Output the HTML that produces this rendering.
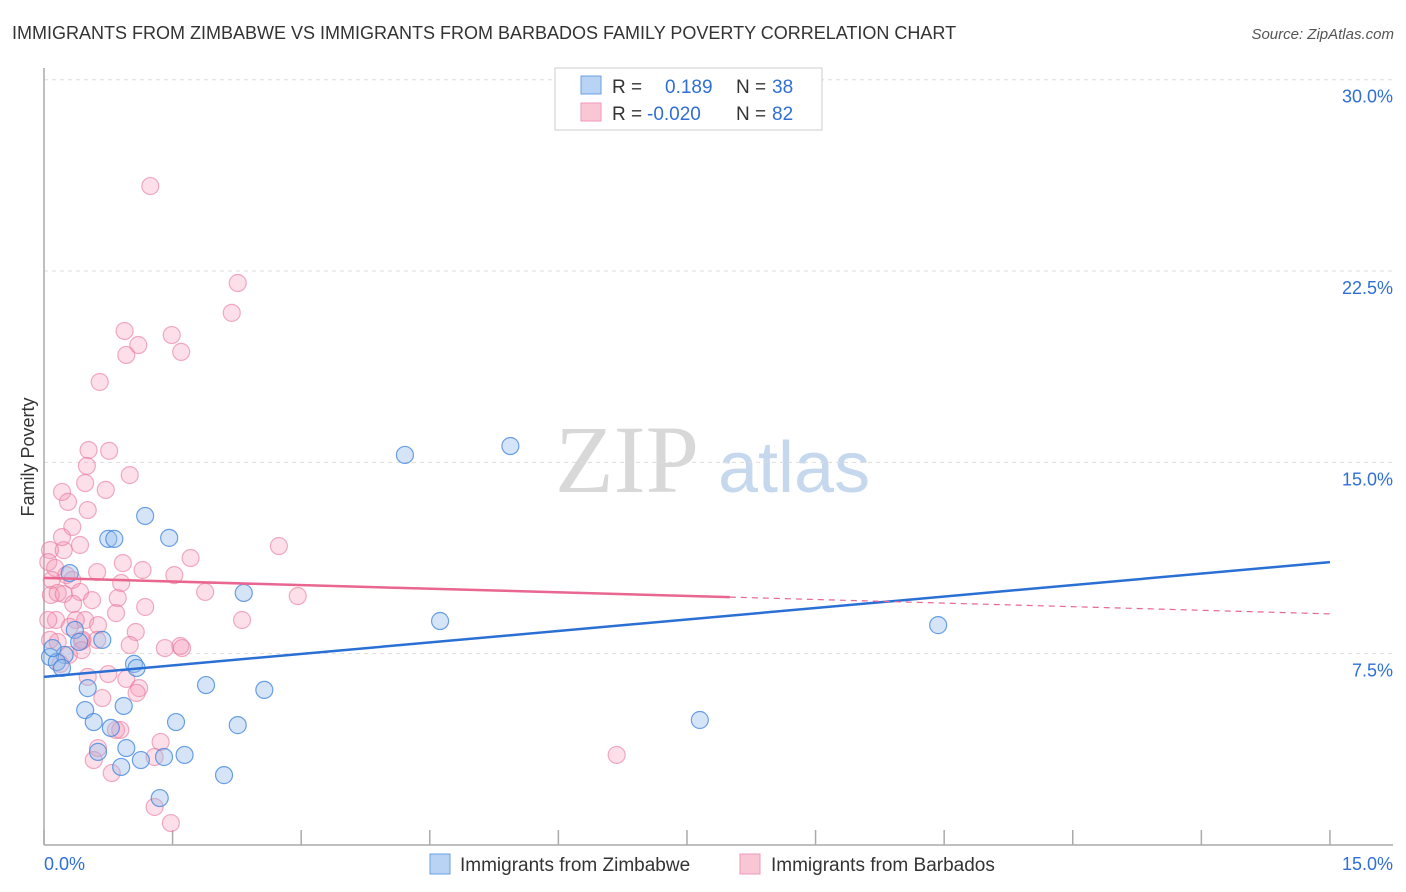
<!DOCTYPE html>
<html><head><meta charset="utf-8">
<style>
body{margin:0;background:#fff;font-family:"Liberation Sans",sans-serif;}
#wrap{position:relative;width:1406px;height:892px;overflow:hidden;}
</style></head>
<body>
<div id="wrap">
<svg id="chart" width="1406" height="892" xmlns="http://www.w3.org/2000/svg">
<text x="12" y="39" font-size="18" fill="#333">IMMIGRANTS FROM ZIMBABWE VS IMMIGRANTS FROM BARBADOS FAMILY POVERTY CORRELATION CHART</text>
<text x="1394" y="39" font-size="15" fill="#555" font-style="italic" text-anchor="end">Source: ZipAtlas.com</text>
<text x="34" y="457" font-size="18" fill="#333" text-anchor="middle" transform="rotate(-90 34 457)">Family Poverty</text>
<g>
<text x="555" y="492" font-size="96" font-family="Liberation Serif,serif" fill="#d8d8d8">ZIP</text>
<text x="718" y="492" font-size="72" fill="#c5d8ee">atlas</text>
</g>
<g id="grid"></g>
<g id="axes"></g>
<g id="pts"></g>
<g id="trends"></g>
<g>
<rect x="555" y="68" width="267" height="62" fill="#fff" stroke="#ccc"/>
<rect x="581" y="76" width="20" height="18" fill="#b8d3f3" stroke="#6a9fe0"/>
<rect x="581" y="103" width="20" height="18" fill="#f9c6d6" stroke="#ee9ab4"/>
<text x="612" y="93" font-size="19" fill="#333">R =</text>
<text x="665" y="93" font-size="19" fill="#2f6fd6">0.189</text>
<text x="736" y="93" font-size="19" fill="#333">N =</text>
<text x="772" y="93" font-size="19" fill="#2f6fd6">38</text>
<text x="612" y="120" font-size="19" fill="#333">R =</text>
<text x="647" y="120" font-size="19" fill="#2f6fd6">-0.020</text>
<text x="736" y="120" font-size="19" fill="#333">N =</text>
<text x="772" y="120" font-size="19" fill="#2f6fd6">82</text>
</g>
<g>
<rect x="430" y="854" width="20" height="20" fill="#b8d3f3" stroke="#6a9fe0"/>
<text x="460" y="871" font-size="19" fill="#333">Immigrants from Zimbabwe</text>
<rect x="740" y="854" width="20" height="20" fill="#f9c6d6" stroke="#ee9ab4"/>
<text x="771" y="871" font-size="19" fill="#333">Immigrants from Barbados</text>
</g>
</svg>
</div>
<script>
const blueX=[4.21,5.44,1.18,1.46,0.75,0.82,0.30,2.33,4.62,10.43,0.36,0.41,0.24,0.07,0.15,0.21,1.05,1.08,0.51,1.89,2.57,0.48,0.93,1.54,2.26,7.65,0.58,0.78,0.96,0.63,0.90,1.13,1.40,1.64,2.10,1.35,0.10,0.68];
const blueY=[15.29,15.64,12.90,12.04,12.00,12.00,10.66,9.88,8.78,8.62,8.43,7.96,7.45,7.37,7.17,6.94,7.10,6.94,6.15,6.27,6.08,5.29,5.45,4.82,4.70,4.90,4.82,4.59,3.80,3.65,3.06,3.33,3.45,3.53,2.74,1.84,7.72,8.04];
const pinkX=[1.24,2.26,2.19,0.94,1.49,1.10,0.96,1.60,0.65,0.52,0.76,0.50,1.00,0.48,0.72,0.21,0.28,0.51,0.33,0.07,0.23,0.42,0.21,2.74,1.71,0.05,0.13,0.92,0.62,1.15,1.52,0.26,0.09,0.08,0.33,0.90,0.16,0.23,1.88,2.96,0.42,0.56,0.86,0.34,1.18,0.84,0.14,0.48,0.37,2.31,0.30,0.63,1.07,0.44,0.07,0.16,1.00,0.45,0.62,0.29,1.59,1.61,1.41,0.19,0.75,0.96,1.11,1.08,0.68,0.51,0.84,0.63,0.58,0.79,1.36,1.29,6.68,1.29,1.48,0.05,0.89,0.44];
const pinkY=[25.83,22.03,20.86,20.15,19.99,19.60,19.21,19.33,18.15,15.48,15.45,14.86,14.50,14.19,13.92,13.84,13.45,13.13,12.47,11.56,11.56,11.76,12.07,11.72,11.25,11.09,10.86,11.05,10.70,10.78,10.58,10.58,10.39,9.80,10.39,10.27,9.88,9.84,9.92,9.76,9.92,9.60,9.68,9.45,9.33,9.09,8.82,8.82,8.82,8.82,8.55,8.62,8.35,8.00,8.04,7.96,7.84,8.04,8.04,7.45,7.80,7.72,7.72,7.10,6.70,6.51,6.15,5.96,5.76,6.59,4.51,3.80,3.33,2.82,4.04,3.45,3.53,1.49,0.86,8.82,4.51,7.64];
const yTicks=[7.5,15,22.5,30];
const yTickLabels=["7.5%","15.0%","22.5%","30.0%"];
const xTickVals=[0,1.5,3,4.5,6,7.5,9,10.5,12,13.5,15];
const blueTrend=[6.59,11.09];
const pinkTrend=[10.47,9.06];
const pinkSolidEnd=8.0;

const NS="http://www.w3.org/2000/svg";
const X=v=>44+v*85.73;
const Y=v=>845-v*25.51;
function mk(tag,attrs,parent){const e=document.createElementNS(NS,tag);for(const k in attrs)e.setAttribute(k,attrs[k]);parent.appendChild(e);return e;}
const grid=document.getElementById('grid'),axes=document.getElementById('axes'),pts=document.getElementById('pts'),tr=document.getElementById('trends');
yTicks.forEach((t,i)=>{
  const l=mk('line',{x1:44,x2:1393,y1:Y(t),y2:Y(t),stroke:'#ddd','stroke-dasharray':'4 4'},grid);
  
  
  const tx=mk('text',{x:1393,y:Y(t)+23,'font-size':18,fill:'#2f6fd6','text-anchor':'end'},grid);
  tx.textContent=yTickLabels[i];
  
  
});
const ya=mk('line',{x1:44,x2:44,y1:68,y2:845,stroke:'#aaa','stroke-width':1.5},axes);


const xa=mk('line',{x1:44,x2:1393,y1:845,y2:845,stroke:'#aaa','stroke-width':1.5},axes);


xTickVals.forEach(t=>{
  const l=mk('line',{x1:X(t),x2:X(t),y1:830,y2:845,stroke:'#aaa','stroke-width':1.5},axes);
  
  
});
const xl0=mk('text',{x:44,y:870,'font-size':18,fill:'#2f6fd6'},axes);xl0.textContent='0.0%';


const xl1=mk('text',{x:1393,y:870,'font-size':18,fill:'#2f6fd6','text-anchor':'end'},axes);xl1.textContent='15.0%';


pinkX.forEach((v,i)=>{
  const c=mk('circle',{cx:X(v),cy:Y(pinkY[i]),r:8.5,fill:'rgba(244,150,180,0.3)',stroke:'rgba(232,120,156,0.6)','stroke-width':1.2},pts);
  
  
});
blueX.forEach((v,i)=>{
  const c=mk('circle',{cx:X(v),cy:Y(blueY[i]),r:8.5,fill:'rgba(150,190,236,0.4)',stroke:'rgba(60,130,220,0.75)','stroke-width':1.2},pts);
  
  
});
const bl=mk('line',{x1:X(0),y1:Y(blueTrend[0]),x2:X(15),y2:Y(blueTrend[1]),stroke:'#2a6fd4','stroke-width':2.5},tr);


const pAt=v=>pinkTrend[0]+(pinkTrend[1]-pinkTrend[0])*v/15;
const pl=mk('line',{x1:X(0),y1:Y(pinkTrend[0]),x2:X(pinkSolidEnd),y2:Y(pAt(pinkSolidEnd)),stroke:'#e8668f','stroke-width':2.5},tr);


const pd=mk('line',{x1:X(pinkSolidEnd),y1:Y(pAt(pinkSolidEnd)),x2:X(15),y2:Y(pinkTrend[1]),stroke:'#e8668f','stroke-width':1.2,'stroke-dasharray':'6 5'},tr);


</script>
</body></html>
